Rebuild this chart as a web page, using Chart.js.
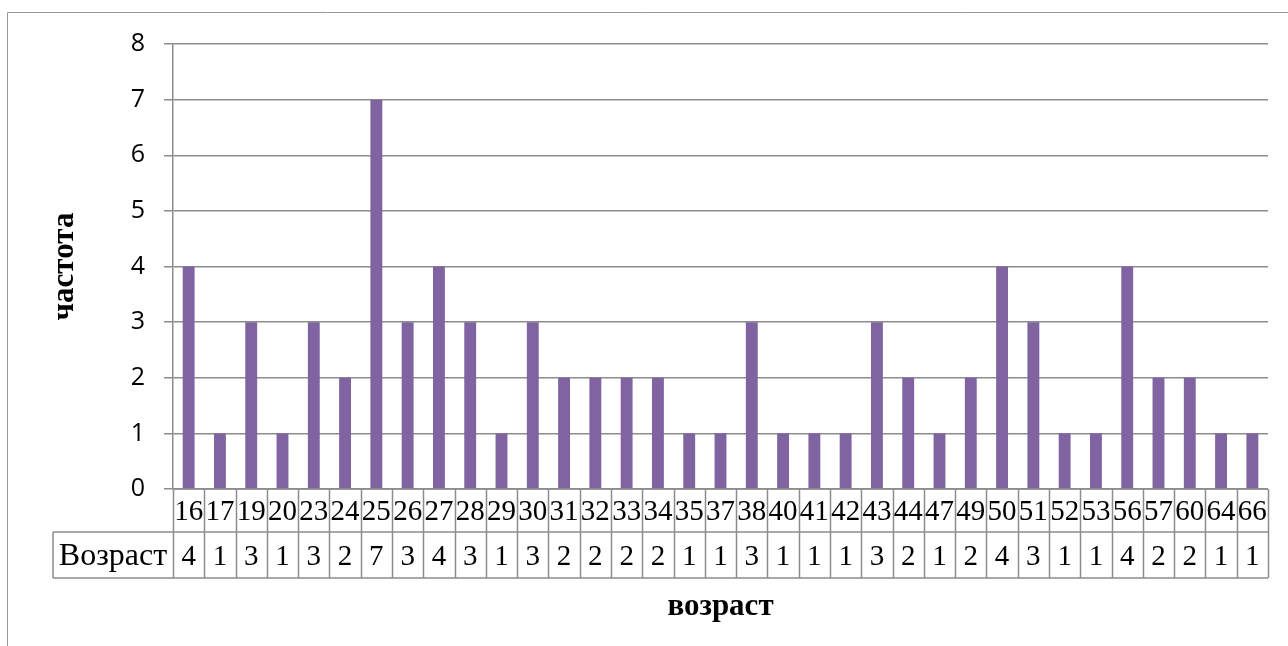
<!DOCTYPE html>
<html>
<head>
<meta charset="utf-8">
<script src="https://cdn.jsdelivr.net/npm/chart.js"></script>
<style>
  html, body { margin: 0; padding: 0; background: #fff; }
  #wrap { width: 1288px; height: 646px; }
</style>
</head>
<body>
<div id="wrap"><canvas id="chart" width="1288" height="646"></canvas></div>
<script>
  // ages and how many people had each age
  const ages = ['16', '17', '19', '20', '23', '24', '25', '26', '27', '28', '29', '30', '31', '32', '33', '34', '35',
    '37', '38', '40', '41', '42', '43', '44', '47', '49', '50', '51', '52', '53', '56', '57', '60', '64', '66'];
  const counts = [4, 1, 3, 1, 3, 2, 7, 3, 4, 3, 1, 3, 2, 2, 2, 2, 1,
    1, 3, 1, 1, 1, 3, 2, 1, 2, 4, 3, 1, 1, 4, 2, 2, 1, 1];
  const yMin = 0, yMax = 8, yStep = 1;
  const seriesName = 'Возраст';
  const yTitle = 'частота';
  const xTitle = 'возраст';

  const gray = '#8c8c8c';
  const serif = '"Liberation Serif", "Times New Roman", serif';

  // data table under the plot + frame + x title
  const tablePlugin = {
    id: 'dataTable',
    afterDraw(chart) {
      const ctx = chart.ctx;
      const x = chart.scales.x;
      const area = chart.chartArea;
      const row1Top = area.bottom, row1Bot = 532, row2Bot = 578;
      const labelLeft = 53;
      const half = (x.getPixelForValue(1) - x.getPixelForValue(0)) / 2;

      ctx.save();
      ctx.strokeStyle = gray;
      ctx.lineWidth = 1.5;
      ctx.beginPath();
      // horizontal lines
      ctx.moveTo(area.left, row1Top); ctx.lineTo(area.right, row1Top);
      ctx.moveTo(labelLeft, row1Bot); ctx.lineTo(area.right, row1Bot);
      ctx.moveTo(labelLeft, row2Bot); ctx.lineTo(area.right, row2Bot);
      // label cell left edge
      ctx.moveTo(labelLeft, row1Bot); ctx.lineTo(labelLeft, row2Bot);
      // column separators
      for (let i = 0; i <= ages.length; i++) {
        const px = Math.round(i < ages.length ? x.getPixelForValue(i) - half : x.getPixelForValue(i - 1) + half) + 0.5;
        ctx.moveTo(px, row1Top); ctx.lineTo(px, row2Bot);
      }
      ctx.stroke();

      ctx.fillStyle = '#000';
      ctx.font = '29px ' + serif;
      ctx.textAlign = 'center';
      ctx.textBaseline = 'middle';
      ages.forEach((a, i) => {
        const cx = x.getPixelForValue(i);
        ctx.fillText(a, cx, (row1Top + row1Bot) / 2 + 2);
        ctx.fillText(String(counts[i]), cx, (row1Bot + row2Bot) / 2 + 2);
      });
      ctx.font = '32px ' + serif;
      ctx.fillText(seriesName, (labelLeft + area.left) / 2, (row1Bot + row2Bot) / 2 + 2);

      // x axis title
      ctx.font = 'bold 31px ' + serif;
      ctx.fillText(xTitle, (area.left + area.right) / 2, 607);

      // outer chart frame
      ctx.strokeStyle = '#999';
      ctx.lineWidth = 1;
      ctx.beginPath();
      ctx.moveTo(7.5, 646); ctx.lineTo(7.5, 12.5); ctx.lineTo(1288, 12.5);
      ctx.stroke();
      ctx.restore();
    }
  };

  new Chart(document.getElementById('chart'), {
    type: 'bar',
    data: {
      labels: ages,
      datasets: [{
        label: seriesName,
        data: counts,
        backgroundColor: '#8064A2',
        borderWidth: 0,
        categoryPercentage: 1,
        barPercentage: 0.38
      }]
    },
    options: {
      responsive: false,
      animation: false,
      layout: { padding: { top: 44, right: 20, bottom: 157, left: 0 } },
      plugins: { legend: { display: false }, tooltip: { enabled: false } },
      scales: {
        x: { display: false },
        y: {
          min: yMin,
          max: yMax,
          afterFit(s) { s.width = 173; },
          ticks: {
            stepSize: yStep,
            color: '#000',
            padding: 19,
            font: { family: '"Open Sans", "Liberation Sans", sans-serif', size: 25 }
          },
          grid: { color: gray, lineWidth: 1.5, tickLength: 9, tickColor: gray },
          border: { color: gray, width: 1.5 },
          title: {
            display: true,
            text: yTitle,
            color: '#000',
            padding: { top: 46, bottom: 0 },
            font: { family: serif, size: 31, weight: 'bold' }
          }
        }
      }
    },
    plugins: [tablePlugin]
  });
</script>
</body>
</html>
